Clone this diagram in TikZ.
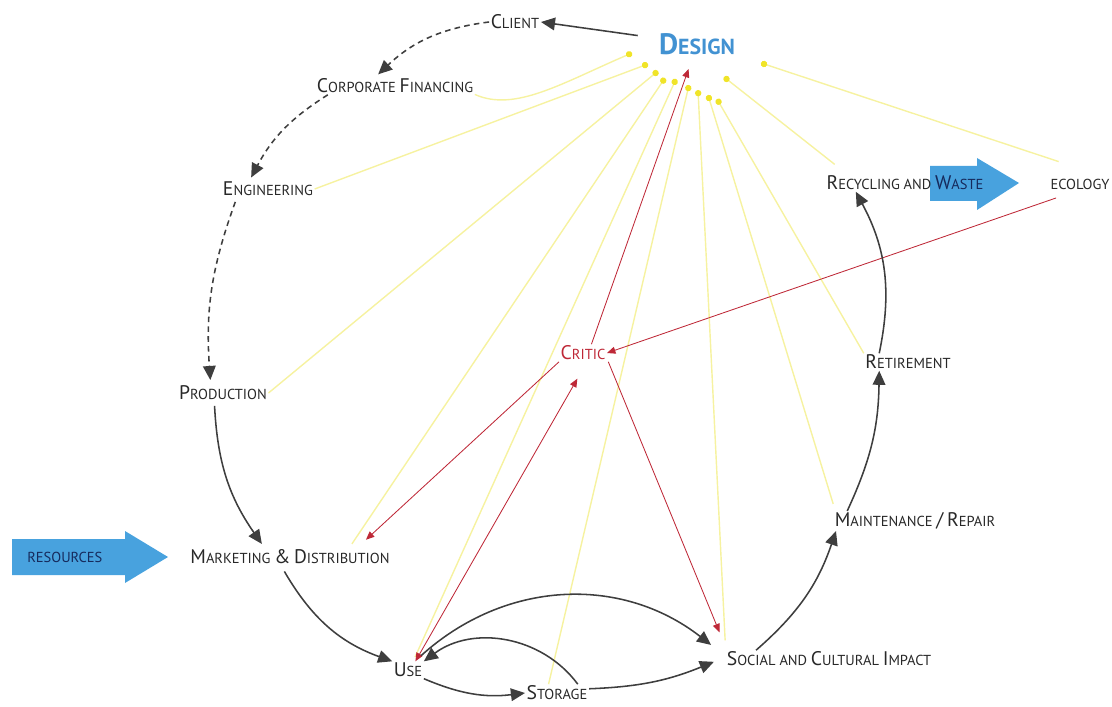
\documentclass[tikz,border=0pt]{standalone}
\usepackage{fontspec}
\setmainfont{PT Sans}
\usepackage{tikz}
\usetikzlibrary{arrows.meta,calc}
\definecolor{designblue}{RGB}{66,146,210}
\definecolor{arrowblue}{RGB}{72,162,222}
\definecolor{navytext}{RGB}{22,42,92}
\definecolor{criticred}{RGB}{190,40,55}
\definecolor{feedyellow}{RGB}{246,242,160}
\definecolor{dotyellow}{RGB}{240,228,40}
\definecolor{cyclegray}{RGB}{62,62,62}
\definecolor{labelgray}{RGB}{40,40,40}

% small caps by hand: big first letter, small rest
\newcommand{\capw}[2]{{\fontsize{14}{14}\selectfont #1}{\fontsize{10.3}{10.3}\selectfont #2}}

\begin{document}
\begin{tikzpicture}[x=0.025cm, y=0.025cm,
    lbl/.style={text=labelgray, inner sep=1pt},
    flowarr/.style={draw=cyclegray, line width=1.1pt, -{Triangle[length=10pt,width=9pt]}},
    flowdash/.style={flowarr, dash pattern=on 4pt off 3pt},
    feed/.style={draw=feedyellow, line width=1pt, -{Circle[length=4.5pt,color=dotyellow]}},
    crit/.style={draw=criticred, line width=0.6pt, -{Triangle[length=6pt,width=5pt]}}]
        \useasboundingbox (0,0) rectangle (1112,706);

        % Blue input / output arrows
        \fill[arrowblue] (12,131) -- (125,131) -- (125,123) -- (168,149) -- (125,175) -- (125,167) -- (12,167) -- cycle;
        \fill[arrowblue] (930,505) -- (977,505) -- (977,496) -- (1019,523) -- (977,548) -- (977,540) -- (930,540) -- cycle;

        % Life cycle stages
        \node[lbl] (client) at (515,684) {\capw{C}{LIENT}};
        \node[text=designblue, inner sep=1pt, font=\bfseries] (design) at (697,662) {{\fontsize{21}{21}\selectfont D}{\fontsize{15.5}{15.5}\selectfont ESIGN}};
        \node[lbl] (corpfin) at (395,620) {\capw{C}{ORPORATE} \capw{F}{INANCING}};
        \node[lbl] (eng) at (268,517) {\capw{E}{NGINEERING}};
        \node[lbl] (prod) at (223,313) {\capw{P}{RODUCTION}};
        \node[lbl] (mkt) at (290,149) {\capw{M}{ARKETING} {\fontsize{14}{14}\selectfont\&} \capw{D}{ISTRIBUTION}};
        \node[lbl] (use) at (408,36) {\capw{U}{SE}};
        \node[lbl] (storage) at (557,13) {\capw{S}{TORAGE}};
        \node[lbl] (social) at (829,47) {\capw{S}{OCIAL AND} \capw{C}{ULTURAL} \capw{I}{MPACT}};
        \node[lbl] (maint) at (915,185) {\capw{M}{AINTENANCE} {\fontsize{14}{14}\selectfont /} \capw{R}{EPAIR}};
        \node[lbl] (retire) at (908,344) {\capw{R}{ETIREMENT}};
        \node[lbl] (recyc) at (905,523) {\capw{R}{ECYCLING AND} \textcolor{navytext}{\capw{W}{ASTE}}};
        \node[lbl] (eco) at (1080,522) {\fontsize{10.3}{10.3}\selectfont ECOLOGY};
        \node[text=navytext, anchor=west, inner sep=0pt] (res) at (27,149) {\fontsize{10.3}{10.3}\selectfont RESOURCES};
        \node[text=criticred, inner sep=1pt] (critic) at (583,353) {\capw{C}{RITIC}};

        % Feedback dots round Design
        \coordinate (d1) at (632,653);
        \coordinate (d2) at (648,642);
        \coordinate (d3) at (658,635);
        \coordinate (d4) at (665,628);
        \coordinate (d5) at (676,627);
        \coordinate (d6) at (689,621);
        \coordinate (d7) at (698,616);
        \coordinate (d8) at (708,611);
        \coordinate (d9) at (717,607);
        \coordinate (d10) at (724,629);
        \coordinate (d11) at (761,643);

        % Feedback to Design
        \draw[feed] ([yshift=-6pt]corpfin.east) .. controls +(40,-18) and +(-70,-30) .. (d1);
        \draw[feed] (eng.east) -- (d2);
        \draw[feed] (prod.east) -- (d3);
        \draw[feed] ([xshift=-28pt,yshift=3pt]mkt.north east) -- (d4);
        \draw[feed] ([xshift=5pt,yshift=3pt]use.north) -- (d5);
        \draw[feed] ([xshift=-6pt]storage.north) -- (d6);
        \draw[feed] ([yshift=7pt]social.north west) -- (d7);
        \draw[feed] ([yshift=5pt]maint.north west) -- (d8);
        \draw[feed] (retire.north west) -- (d9);
        \draw[feed] ([xshift=7pt,yshift=7pt]recyc.north west) -- (d10);
        \draw[feed] ([xshift=7pt,yshift=11pt]eco.north west) -- (d11);

        % Critic links
        \draw[crit] ([xshift=-17pt,yshift=-5pt]eco.south) -- (critic.east);
        \draw[crit] ([xshift=6pt]critic.north) -- ([xshift=-6pt,yshift=-9pt]design.south);
        \draw[crit] (critic.south west) -- ([xshift=-18pt,yshift=6pt]mkt.north east);
        \draw[crit, {Triangle[length=6pt,width=5pt]}-{Triangle[length=6pt,width=5pt]}] ([xshift=-6pt]use.north east) -- ([xshift=-4pt,yshift=-12pt]critic.south);
        \draw[crit] ([xshift=18pt]critic.south) -- ([xshift=-4pt,yshift=19pt]social.west);

        % Planning stages (dashed)
        \draw[flowarr] ([xshift=-14pt,yshift=6pt]design.west) -- (client.east);
        \draw[flowdash] (client.west) to[bend right=18] ([xshift=-12pt,yshift=2pt]corpfin.north);
        \draw[flowdash] ([xshift=9pt]corpfin.south west) to[bend right=15] ([xshift=-12pt,yshift=2pt]eng.north);
        \draw[flowdash] ([xshift=10pt,yshift=-3pt]eng.south west) to[bend right=12] ([xshift=-9pt,yshift=3pt]prod.north);

        % Life cycle (solid)
        \draw[flowarr] ([xshift=-6pt,yshift=-3pt]prod.south) to[bend right=16] ([xshift=-20pt,yshift=3pt]mkt.north);
        \draw[flowarr] ([xshift=-4pt,yshift=-4pt]mkt.south) to[bend right=20] (use.north west);
        \draw[flowarr] (use.south east) to[bend right=15] (storage.west);
        \draw[flowarr] ([xshift=-8pt]storage.north east) to[bend right=45] (use.north east);
        \draw[flowarr] ([xshift=-2pt,yshift=4pt]use.north east) to[bend left=40] ([xshift=-10pt,yshift=10pt]social.west);
        \draw[flowarr] ([yshift=3pt]storage.east) to[bend right=10] ([xshift=-8pt,yshift=-2pt]social.west);
        \draw[flowarr] ([xshift=22pt]social.north west) to[bend right=15] ([xshift=2pt]maint.south west);
        \draw[flowarr] ([xshift=10pt]maint.north west) to[bend right=12] ([xshift=11pt]retire.south west);
        \draw[flowarr] ([xshift=11pt]retire.north west) to[bend right=20] ([xshift=22pt]recyc.south west);
\end{tikzpicture}
\end{document}
